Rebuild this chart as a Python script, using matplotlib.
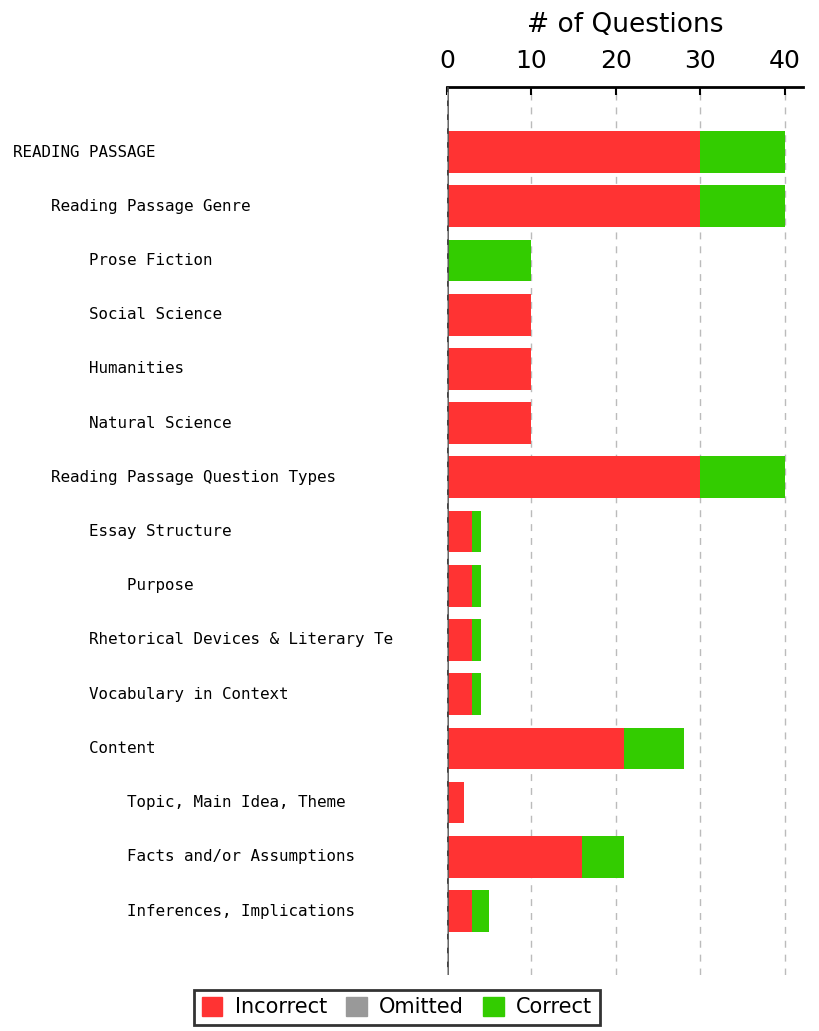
import matplotlib.pyplot as plt
import numpy as np
from matplotlib.transforms import blended_transform_factory
from matplotlib.patches import Patch

categories = [
    'READING PASSAGE',
    '    Reading Passage Genre',
    '        Prose Fiction',
    '        Social Science',
    '        Humanities',
    '        Natural Science',
    '    Reading Passage Question Types',
    '        Essay Structure',
    '            Purpose',
    '        Rhetorical Devices & Literary Te',
    '        Vocabulary in Context',
    '        Content',
    '            Topic, Main Idea, Theme',
    '            Facts and/or Assumptions',
    '            Inferences, Implications',
]
incorrect = [30, 30, 0, 10, 10, 10, 30, 3, 3, 3, 3, 21, 2, 16, 3]
omitted = [0, 0, 0, 0, 0, 0, 0, 0, 0, 0, 0, 0, 0, 0, 0]
correct = [10, 10, 10, 0, 0, 0, 10, 1, 1, 1, 1, 7, 0, 5, 2]

colors = {'Incorrect': '#FF3333', 'Omitted': '#999999', 'Correct': '#33CC00'}

fig = plt.figure(figsize=(8.2, 10.31), dpi=100)
ax = fig.add_axes([0.545, 0.0543, 0.979 - 0.545, 0.9156 - 0.0543])

y = np.arange(len(categories))
inc = np.array(incorrect)
omi = np.array(omitted)
cor = np.array(correct)
h = 0.77
ax.barh(y, inc, height=h, color=colors['Incorrect'], zorder=3)
ax.barh(y, omi, left=inc, height=h, color=colors['Omitted'], zorder=3)
ax.barh(y, cor, left=inc + omi, height=h, color=colors['Correct'], zorder=3)

ax.set_xlim(0, 42.1)
ax.set_ylim(len(categories) - 1 + 1.18, -1.2)

ax.xaxis.set_ticks_position('top')
ax.xaxis.set_label_position('top')
ax.set_xticks([0, 10, 20, 30, 40])
ax.tick_params(axis='x', direction='in', length=6, width=1.5, labelsize=18, pad=10)
ax.set_xlabel('# of Questions', fontsize=19, labelpad=12)
ax.set_yticks([])

for s in ['left', 'right', 'bottom']:
    ax.spines[s].set_visible(False)
ax.spines['top'].set_linewidth(2)

for xv in [10, 20, 30, 40]:
    ax.axvline(xv, color='#bbbbbb', linestyle=(0, (5, 5)), linewidth=1, zorder=1)
ax.axvline(0, color='#444444', linewidth=2, zorder=4)
ax.axvline(0, color='#aaaaaa', linewidth=1, linestyle=(0, (6, 4)), zorder=5)

trans = blended_transform_factory(fig.transFigure, ax.transData)
for i, lab in enumerate(categories):
    ax.text(13 / 820, i, lab, transform=trans, ha='left', va='center',
            family='DejaVu Sans Mono', fontsize=11.4)

handles = [Patch(color=colors[k]) for k in ['Incorrect', 'Omitted', 'Correct']]
leg = fig.legend(handles, ['Incorrect', 'Omitted', 'Correct'], loc='lower center',
                 bbox_to_anchor=(397 / 820, -0.004), ncol=3, fontsize=15,
                 frameon=True, fancybox=False, edgecolor='black',
                 handlelength=1.0, handleheight=1.0, columnspacing=0.9,
                 handletextpad=0.6, borderpad=0.35)
leg.get_frame().set_linewidth(2)

fig.savefig('out.png', dpi=100)
